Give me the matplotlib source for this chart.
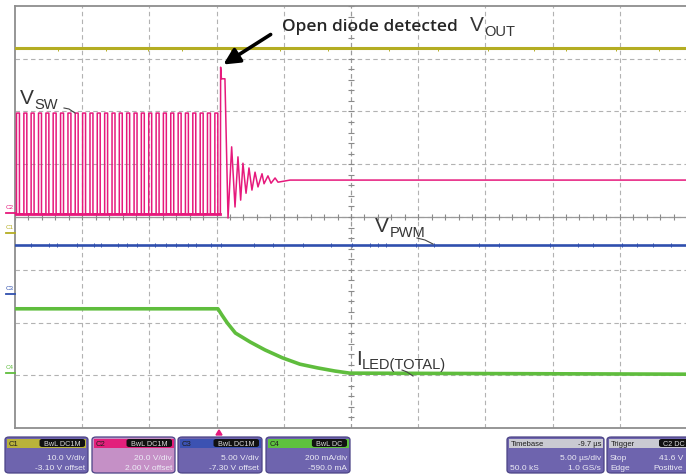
import matplotlib
matplotlib.use("Agg")
import matplotlib.pyplot as plt
from matplotlib.patches import FancyBboxPatch, Polygon, FancyArrowPatch, Rectangle
from matplotlib.lines import Line2D
from matplotlib import font_manager as fm
import numpy as np

# ---------------- data (time in µs, amplitude in screen divisions from bottom) -------------
time_span_us = 50.0
n_div_x, n_div_y = 10, 8

vout_level = 7.20
vout_glitch_t = [3.2, 6.8, 9.9, 12.4, 16.1, 19.7, 23.3, 27.8, 31.5, 35.2, 38.6, 41.0, 44.7, 47.9]

vpwm_level = 3.47
vpwm_glitch_t = [1.2, 2.5, 3.1, 4.6, 5.9, 6.4, 7.7, 8.3, 9.1, 10.4, 11.2, 12.0, 12.9, 13.5,
                 14.6, 15.3, 17.8, 19.2, 21.4, 23.5, 25.1, 26.4, 27.0, 27.6, 29.8, 31.2,
                 34.5, 36.0, 39.8, 41.9, 43.0, 45.2, 46.3, 47.5, 48.8]

vsw_low = 4.06
vsw_high = 5.97
vsw_pulse_starts = [0.11, 0.66, 1.20, 1.75, 2.30, 2.84, 3.39, 3.94, 4.48, 5.03,
                    5.58, 6.12, 6.67, 7.22, 7.76, 8.31, 8.86, 9.40, 9.95, 10.50,
                    11.04, 11.59, 12.14, 12.68, 13.23, 13.78, 14.32, 14.87]
vsw_pulse_width = 0.22
vsw_tail_t = [15.28, 15.30, 15.36, 15.62, 15.85, 16.12, 16.37, 16.59, 16.79, 16.96, 17.19,
              17.41, 17.63, 17.86, 18.08, 18.38, 18.53, 18.82, 19.05, 19.35, 19.57, 20.46, 50.0]
vsw_tail_v = [4.06, 6.84, 6.62, 6.62, 3.98, 5.33, 4.19, 5.14, 4.32, 5.02, 4.45,
              4.93, 4.51, 4.85, 4.57, 4.82, 4.63, 4.78, 4.64, 4.74, 4.66, 4.70, 4.70]

iled_t = [0.0, 15.1, 15.4, 15.8, 16.4, 17.5, 18.6, 19.9, 21.2, 22.5, 23.8, 24.9, 50.0]
iled_v = [2.26, 2.26, 2.14, 1.99, 1.80, 1.63, 1.48, 1.33, 1.21, 1.14, 1.08, 1.04, 1.02]

channel_boxes = [
    # x0, x1, header colour, body colour, name, badge, row1, row2
    (5, 88, "#b9b33a", "#6e64ae", "C1", "BwL DC1M", ("", "10.0 V/div"), ("", "-3.10 V offset")),
    (92, 175, "#e2207c", "#c590c6", "C2", "BwL DC1M", ("", "20.0 V/div"), ("", "2.00 V offset")),
    (178, 262, "#3c52b2", "#6e64ae", "C3", "BwL DC1M", ("", "5.00 V/div"), ("", "-7.30 V offset")),
    (266, 350, "#5ec23e", "#6e64ae", "C4", "BwL DC", ("", "200 mA/div"), ("", "-590.0 mA")),
]

# ---------------- figure -------------
W, H = 686, 475


def fx(x):
    return x / W


def fy(y):
    return 1 - y / H


def has_font(name):
    try:
        fm.findfont(fm.FontProperties(family=name), fallback_to_default=False)
        return True
    except Exception:
        return False


narrow = "Liberation Sans Narrow" if has_font("Liberation Sans Narrow") else "Liberation Sans"
label_font = "Liberation Sans"
title_font = "Open Sans" if has_font("Open Sans") else "DejaVu Sans"

fig = plt.figure(figsize=(W / 100, H / 100), dpi=100)
fig.patch.set_facecolor("white")
ax = fig.add_axes([fx(15), fy(428), 672 / W, 422 / H])
ax.set_xlim(0, time_span_us)
ax.set_ylim(0, n_div_y)
ax.set_xticks([])
ax.set_yticks([])
for s in ax.spines.values():
    s.set_color("#8e8e8e")
    s.set_linewidth(1.3)

xdiv = time_span_us / n_div_x
# grid
for i in range(1, n_div_x):
    ax.axvline(i * xdiv, color="#b2b2b2", lw=0.8, ls=(0, (4, 3)), zorder=1)
for j in range(1, n_div_y):
    ax.axhline(j, color="#b2b2b2", lw=0.8, ls=(0, (4, 3)), zorder=1)
# centre axes with minor ticks
cx, cy = time_span_us / 2, n_div_y / 2
ax.axhline(cy, color="#9a9a9a", lw=0.9, zorder=1)
ax.axvline(cx, color="#9a9a9a", lw=0.8, ls=(0, (4, 3)), zorder=1)
tx = np.arange(0, time_span_us + 1e-6, xdiv / 5)
ax.vlines(tx, cy - 0.055, cy + 0.055, color="#8a8a8a", lw=0.8, zorder=1)
ty = np.arange(0, n_div_y + 1e-6, 0.2)
ax.hlines(ty, cx - 0.22, cx + 0.22, color="#8a8a8a", lw=0.8, zorder=1)

# ---- traces ----
c_out, c_sw, c_pwm, c_led = "#b4ad22", "#e6197c", "#2f4fae", "#5fbd3d"

ax.plot([0, time_span_us], [vout_level, vout_level], color=c_out, lw=2.2, zorder=3)
ax.vlines(vout_glitch_t, vout_level - 0.045, vout_level + 0.01, color=c_out, lw=0.7, zorder=3)

ax.plot([0, time_span_us], [vpwm_level, vpwm_level], color=c_pwm, lw=1.9, zorder=3)
ax.vlines(vpwm_glitch_t, vpwm_level - 0.045, vpwm_level + 0.04, color=c_pwm, lw=0.7, zorder=3)

sw_t, sw_v = [0.0], [vsw_low]
for s in vsw_pulse_starts:
    sw_t += [s, s, s + vsw_pulse_width, s + vsw_pulse_width]
    sw_v += [vsw_low, vsw_high, vsw_high, vsw_low]
sw_t += vsw_tail_t
sw_v += vsw_tail_v
ax.plot(sw_t, sw_v, color=c_sw, lw=1.1, zorder=4)
ax.plot([0, vsw_tail_t[0]], [vsw_low, vsw_low], color=c_sw, lw=2.0, zorder=4)

ax.plot(iled_t, iled_v, color=c_led, lw=2.6, zorder=3)

# ---- annotations ----
txt_col = "#353535"


def vlabel(x, y, main, sub, dy=5):
    fig.text(fx(x), fy(y), main, fontsize=15, family=label_font, color=txt_col, va="baseline")
    t = fig.text(0, 0, main, fontsize=15, family=label_font)
    r = fig.canvas.get_renderer()
    w = t.get_window_extent(renderer=r).width
    t.remove()
    fig.text(fx(x + w + 0.5), fy(y + dy), sub, fontsize=10.5, family=label_font,
             color=txt_col, va="baseline")


vlabel(20, 104, "V", "SW")
vlabel(470, 31, "V", "OUT")
vlabel(375, 232, "V", "PWM")
vlabel(356, 365, "I", "LED(TOTAL)", dy=4)

for pts in ([(64, 108), (69, 109), (75, 113)],
            [(417, 238), (425, 240), (433, 244)],
            [(402, 370), (407, 372), (413, 376)]):
    fig.add_artist(Line2D([fx(p[0]) for p in pts], [fy(p[1]) for p in pts],
                          transform=fig.transFigure, color="#444444", lw=0.8))

fig.text(fx(282), fy(31), "Open diode detected", fontsize=12.5, family=title_font,
         weight="semibold", color="#262626", va="baseline")
fig.add_artist(FancyArrowPatch(posA=(fx(273), fy(33)), posB=(fx(221), fy(66)),
                               transform=fig.transFigure, arrowstyle="-|>",
                               mutation_scale=24, lw=2.6, color="black"))

# left channel markers
for lab, y, col in (("C2", 207, c_sw), ("C1", 227, c_out), ("C3", 288, c_pwm), ("C4", 367, c_led)):
    fig.text(fx(6), fy(y + 2), lab, fontsize=4.5, family=narrow, color=col, va="baseline")
    fig.add_artist(Line2D([fx(6), fx(15)], [fy(y + 6), fy(y + 6)], transform=fig.transFigure,
                          color=col, lw=1.3))

# trigger marker
fig.add_artist(Polygon([(fx(216), fy(435)), (fx(222), fy(435)), (fx(219), fy(430))],
                       closed=True, transform=fig.transFigure, color="#e6197c"))

# ---- info boxes ----
Y0, Y1, YH = 437, 473, 448
box_txt = "#ecebf5"


def box(x0, x1, head_col, body_col, name, badge, row1, row2, head_right=None,
        text_right=None, badge_x=None):
    xr = text_right if text_right is not None else x1 - 3
    fig.add_artist(FancyBboxPatch((fx(x0), fy(Y1)), fx(x1 - x0), (Y1 - Y0) / H,
                                  boxstyle="round,pad=0,rounding_size=0.006",
                                  transform=fig.transFigure, fc=body_col, ec="#4b4386", lw=0.9))
    fig.add_artist(Rectangle((fx(x0 + 1.5), fy(YH)), fx(x1 - x0 - 3), (YH - Y0 - 1.5) / H,
                             transform=fig.transFigure, fc=head_col, ec="none"))
    fig.text(fx(x0 + 4), fy(446), name, fontsize=5.5, family=narrow, color="#1e1e1e",
             va="baseline")
    if badge:
        bw = 7.0 * len(badge) ** 0.9
        bx = badge_x if badge_x is not None else x1 - 3 - bw
        fig.add_artist(FancyBboxPatch((fx(bx), fy(447)), fx(bw), 8 / H,
                                      boxstyle="round,pad=0,rounding_size=0.004",
                                      transform=fig.transFigure, fc="#111111", ec="none"))
        fig.text(fx(bx + bw / 2), fy(445.5), badge, fontsize=5.2, family=narrow,
                 color="#d8d8d8", ha="center", va="baseline")
    if head_right:
        fig.text(fx(xr), fy(446), head_right, fontsize=5.5, family=narrow,
                 color="#1e1e1e", ha="right", va="baseline")
    for (l, r), yb in ((row1, 459.5), (row2, 470.5)):
        if l:
            fig.text(fx(x0 + 3), fy(yb), l, fontsize=6, family=narrow, color=box_txt, va="baseline")
        if r:
            fig.text(fx(xr), fy(yb), r, fontsize=6, family=narrow, color=box_txt,
                     ha="right", va="baseline")


for (x0, x1, hc, bc, nm, bd, r1, r2) in channel_boxes:
    box(x0, x1, hc, bc, nm, bd, r1, r2)

box(507, 604, "#cacad2", "#6e64ae", "Timebase", None, ("", "5.00 µs/div"),
    ("50.0 kS", "1.0 GS/s"), head_right="-9.7 µs")
box(607, 700, "#cacad2", "#6e64ae", "Trigger", "C2 DC", ("Stop", "41.6 V"),
    ("Edge", "Positive"), text_right=683, badge_x=659)

fig.savefig("out.png", dpi=100)
